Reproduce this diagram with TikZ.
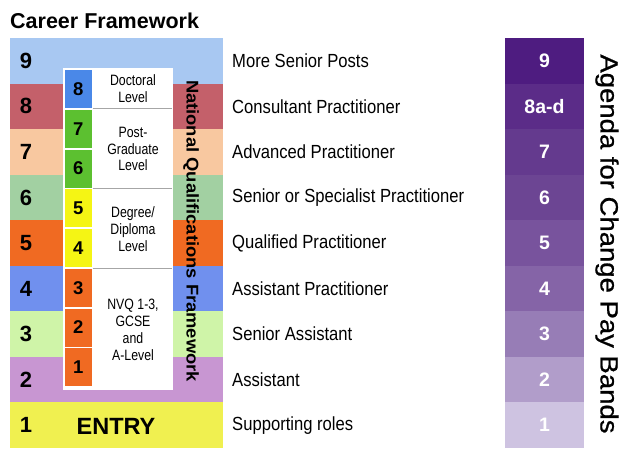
\documentclass[tikz,border=0pt]{standalone}
\usepackage{fontspec}
\setmainfont{Liberation Sans}
\newfontfamily\cond[FakeStretch=0.875]{Liberation Sans}
\newfontfamily\qcond[FakeStretch=0.82]{Liberation Sans}
\newfontfamily\wideb[FakeStretch=1.08]{Liberation Sans Bold}
\newfontfamily\wider[FakeStretch=1.1,FakeBold=0.8]{Liberation Sans}
\definecolor{b9}{HTML}{A8C8F2}
\definecolor{b8}{HTML}{C4606A}
\definecolor{b7}{HTML}{F8C8A0}
\definecolor{b6}{HTML}{A2D0A2}
\definecolor{b5}{HTML}{F06A22}
\definecolor{b4}{HTML}{7090EE}
\definecolor{b3}{HTML}{CFF4A8}
\definecolor{b2}{HTML}{C896D2}
\definecolor{b1}{HTML}{F0F050}
\definecolor{p9}{HTML}{4E1C80}
\definecolor{p8}{HTML}{5B2C88}
\definecolor{p7}{HTML}{643A8E}
\definecolor{p6}{HTML}{6C4593}
\definecolor{p5}{HTML}{78539D}
\definecolor{p4}{HTML}{8564A7}
\definecolor{p3}{HTML}{977DB6}
\definecolor{p2}{HTML}{B19DCA}
\definecolor{p1}{HTML}{CEC3E1}
\definecolor{sqblue}{HTML}{4A88E8}
\definecolor{sqgreen}{HTML}{5CC030}
\definecolor{sqyellow}{HTML}{F5F514}
\definecolor{sqorange}{HTML}{F06A22}
\begin{document}
\begin{tikzpicture}[x=1pt,y=-1pt,
  band/.style={inner sep=0pt,minimum width=213pt,minimum height=45.6pt},
  bnum/.style={inner sep=0pt,font=\fontsize{22}{22}\selectfont\bfseries},
  pband/.style={inner sep=0pt,minimum width=79pt,minimum height=45.6pt,text=white,font=\fontsize{19.5}{19.5}\selectfont\bfseries},
  sq/.style={inner sep=0pt,minimum width=27.5pt,minimum height=38pt,font=\fontsize{18.5}{18.5}\selectfont\bfseries},
  role/.style={anchor=west,inner sep=0pt,font=\cond\fontsize{19}{19}\selectfont},
  qual/.style={align=center,inner sep=0pt,font=\qcond\fontsize{15}{16.8}\selectfont},
  sepline/.style={draw=gray!70,line width=0.8pt}]
\useasboundingbox (0,0) rectangle (622,448);
\node[anchor=west,inner sep=0pt,font=\fontsize{21.5}{21.5}\selectfont\bfseries] (title) at (10,21) {Career Framework};
% left bands
\foreach \c/\n [count=\i from 0] in {b9/9,b8/8,b7/7,b6/6,b5/5,b4/4,b3/3,b2/2,b1/1}{
  \node[band,fill=\c] (band\n) at (116.5,{38+22.8+\i*45.55}) {};
  \node[bnum] (bn\n) at (26,{38+22.8+\i*45.55}) {\n};
}
\node[inner sep=0pt,font=\fontsize{23.5}{23.5}\selectfont\bfseries] (entry) at (116,426) {ENTRY};
% inner white box
\node[fill=white,inner sep=0pt,minimum width=110pt,minimum height=322pt] (qbox) at (118,229) {};
\foreach \c/\n [count=\i from 0] in {sqblue/8,sqgreen/7,sqgreen/6,sqyellow/5,sqyellow/4,sqorange/3,sqorange/2,sqorange/1}{
  \node[sq,fill=\c] (sq\n) at (78.25,{70+19+\i*39.75}) {\n};
}
\coordinate (l1a) at (93,108.5); \coordinate (l1b) at (172,108.5);
\coordinate (l2a) at (93,188.5); \coordinate (l2b) at (172,188.5);
\coordinate (l3a) at (93,268.5); \coordinate (l3b) at (172,268.5);
\draw[sepline] (l1a) -- (l1b);
\draw[sepline] (l2a) -- (l2b);
\draw[sepline] (l3a) -- (l3b);
\node[qual] (doc) at (133,89) {Doctoral\\Level};
\node[qual] (pg) at (133,149) {Post-\\Graduate\\Level};
\node[qual] (deg) at (133,229) {Degree/\\Diploma\\Level};
\node[qual] (nvq) at (133,330) {NVQ 1-3,\\GCSE\\and\\A-Level};
\node[rotate=-90,inner sep=0pt,font=\wideb\fontsize{17}{17}\selectfont] (nqf) at (191,231) {National Qualifications Framework};
% roles
\foreach \t [count=\i from 0] in {More Senior Posts,Consultant Practitioner,Advanced Practitioner,Senior or Specialist Practitioner,Qualified Practitioner,Assistant Practitioner,Senior Assistant,Assistant,Supporting roles}{
  \node[role] (role\i) at (232,{38+22.8+\i*45.55}) {\t};
}
% pay bands
\foreach \c/\n [count=\i from 0] in {p9/9,p8/8a-d,p7/7,p6/6,p5/5,p4/4,p3/3,p2/2,p1/1}{
  \node[pband,fill=\c] (pay\i) at (544.5,{38+22.8+\i*45.55}) {\n};
}
\node[rotate=-90,inner sep=0pt,font=\wider\fontsize{25}{25}\selectfont] (afc) at (607,244) {Agenda for Change Pay Bands};
\end{tikzpicture}
\end{document}
